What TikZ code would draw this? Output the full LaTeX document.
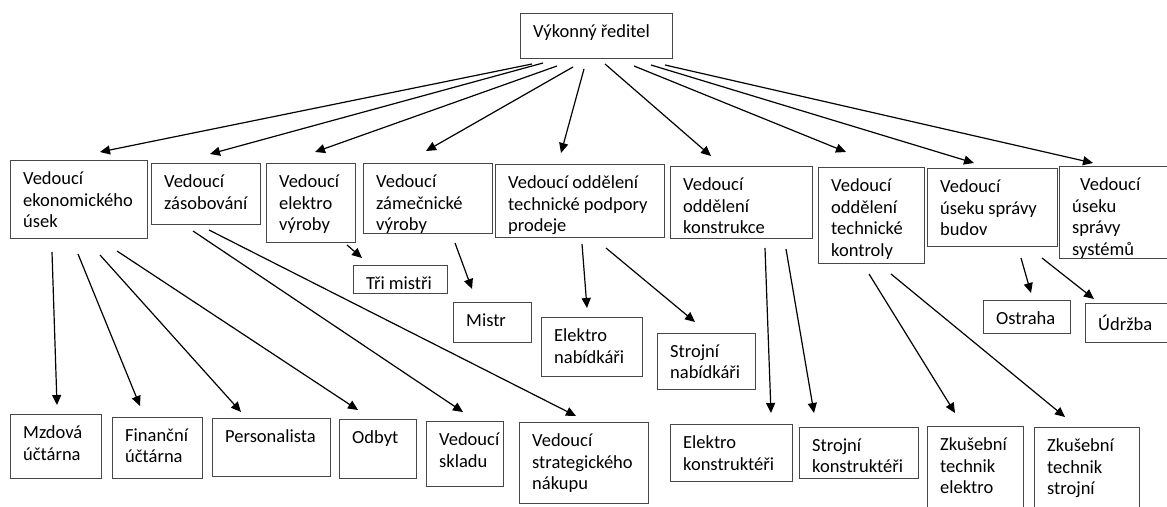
\documentclass[tikz,border=0pt]{standalone}
\usepackage{fontspec}
\setmainfont{Carlito}
\usetikzlibrary{arrows.meta}
\definecolor{boxline}{RGB}{70,70,70}
\definecolor{inkarrow}{RGB}{0,0,0}

\begin{document}
\begin{tikzpicture}[x=1pt,y=-1pt,
  unit/.style={draw=boxline,line width=1pt,anchor=north west,inner sep=0pt},
  lbl/.style={anchor=north west,align=left,inner xsep=13pt,inner ysep=11.5pt,font=\fontsize{18.5}{21.5}\selectfont},
  link/.style={inkarrow,line width=1.2pt,-{Triangle[length=10pt,width=9pt]}}]
\useasboundingbox (0,0) rectangle (1167,506);
\clip (0,0) rectangle (1167,506);
\foreach \n/\x/\y/\w/\h/\txt in {
  top/520/13/152/45/{Výkonný ředitel},
  ek/10/160/137/78/{Vedoucí\\ekonomického\\úsek},
  zas/151/163/109/61/{Vedoucí\\zásobování},
  elv/266/163/89/79/{Vedoucí\\elektro\\výroby},
  zam/363/163/129/70/{Vedoucí\\zámečnické\\výroby},
  tpp/495/164/169/73/{Vedoucí oddělení\\technické podpory\\prodeje},
  kon/670/166/142/72/{Vedoucí\\oddělení\\konstrukce},
  tk/818/167/106/96/{Vedoucí\\oddělení\\technické\\kontroly},
  bud/927/168/130/78/{Vedoucí\\úseku správy\\budov},
  sys/1059/166/130/92/{\hspace*{8pt}Vedoucí\\úseku\\správy\\systémů},
  mistri/353/265/94/28/{Tři mistři},
  mistr/453/302/78/40/{Mistr},
  enab/541/317/101/59/{Elektro\\nabídkáři},
  snab/657/333/98/56/{Strojní\\nabídkáři},
  ostr/983/300/87/33/{Ostraha},
  udr/1085/303/100/39/{Údržba},
  mzd/10/414/91/64/{Mzdová\\účtárna},
  fin/112/417/90/61/{Finanční\\účtárna},
  pers/212/418/118/58/{Personalista},
  odb/339/419/77/59/{Odbyt},
  skl/426/421/77/65/{Vedoucí\\skladu},
  strat/519/422/129/81/{Vedoucí\\strategického\\nákupu},
  ekon/670/424/122/57/{Elektro\\konstruktéři},
  skon/799/427/119/51/{Strojní\\konstruktéři},
  zke/927/426/96/100/{Zkušební\\technik\\elektro},
  zks/1034/427/105/100/{Zkušební\\technik\\strojní}}
  \node[unit,minimum width=\w pt,minimum height=\h pt,label={[lbl]north west:\txt}] (\n) at (\x,\y) {};
\foreach \src/\sx/\sy/\dst/\ex/\ey in {
  top/12/5/ek/90/-8, top/23/4/zas/59/-9, top/37/7/elv/49/-11,
  top/53/8/zam/63/-12, top/64/10/tpp/66/-11, top/85/5/kon/41/-10,
  top/114/7/tk/28/-15, top/131/6/bud/47/-5, top/145/6/sys/34/-3,
  ek/42/13/mzd/47/-9, ek/68/15/fin/28/-11, ek/90/16/pers/29/-6,
  ek/107/12/odb/19/-9, zas/42/6/skl/37/-9, zas/58/5/strat/57/-6,
  elv/81/2/mistri/9/-7, zam/92/9/mistr/19/-13,
  tpp/87/6/enab/46/-9, tpp/111/10/snab/38/-11,
  kon/95/9/ekon/101/-11, kon/116/10/skon/15/-14,
  tk/51/10/zke/28/-13, tk/73/10/zks/31/-10,
  bud/94/11/ostr/48/-7, bud/115/11/udr/9/-4}
  \draw[link] ([shift={(\sx,\sy)}]\src.south west) -- ([shift={(\ex,\ey)}]\dst.north west);
\end{tikzpicture}
\end{document}
